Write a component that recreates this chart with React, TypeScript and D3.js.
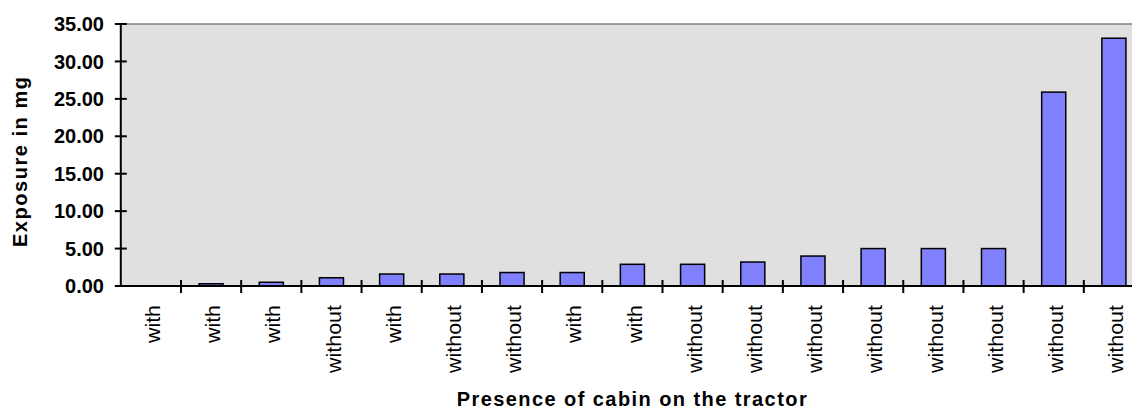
import React from "react";
import * as d3 from "d3";

const categories: string[] = [
  "with", "with", "with", "without", "with", "without", "without", "with", "with",
  "without", "without", "without", "without", "without", "without", "without", "without",
];
const exposure: number[] = [
  0, 0.3, 0.5, 1.1, 1.6, 1.6, 1.8, 1.8, 2.9, 2.9, 3.2, 4.0, 5.0, 5.0, 5.0, 25.9, 33.1,
];
const yTicks: number[] = [0, 5, 10, 15, 20, 25, 30, 35];

const W = 1132;
const H = 410;
const left = 120.8;
const right = 1144;
const top = 24;
const bottom = 286;

export default function App() {
  const x = d3
    .scaleBand<number>()
    .domain(categories.map((_, i) => i))
    .range([left, right])
    .padding(0);
  const y = d3.scaleLinear().domain([0, 35]).range([bottom, top]);
  const bw = x.bandwidth() * 0.4;
  const font = "Arial, 'Liberation Sans', Helvetica, sans-serif";

  return (
    <svg
      width={W}
      height={H}
      style={{ position: "absolute", left: 0, top: 0, background: "#fff" }}
      fontFamily={font}
    >
      <rect x={left} y={top} width={right - left} height={bottom - top} fill="#E0E0E0" />
      <line x1={left} x2={right} y1={top} y2={top} stroke="#808080" strokeWidth={1.5} />
      {exposure.map((v, i) => (
        <rect
          key={i}
          x={(x(i) as number) + (x.bandwidth() - bw) / 2}
          y={y(v)}
          width={bw}
          height={Math.max(0, y(0) - y(v))}
          fill="#8080FF"
          stroke="#000"
          strokeWidth={1.5}
        />
      ))}
      <line x1={left} x2={left} y1={top} y2={bottom} stroke="#000" strokeWidth={2} />
      <line x1={left} x2={right} y1={bottom} y2={bottom} stroke="#000" strokeWidth={2} />
      {yTicks.map((t) => (
        <g key={t}>
          <line x1={left - 6} x2={left + 6} y1={y(t)} y2={y(t)} stroke="#000" strokeWidth={2} />
          <text
            x={104}
            y={y(t)}
            dy="0.36em"
            textAnchor="end"
            fontSize={20}
            fontWeight="bold"
          >
            {t.toFixed(2)}
          </text>
        </g>
      ))}
      {categories.map((_, i) =>
        i === 0 ? null : (
          <line
            key={"t" + i}
            x1={x(i) as number}
            x2={x(i) as number}
            y1={bottom - 6}
            y2={bottom + 7}
            stroke="#000"
            strokeWidth={2}
          />
        )
      )}
      {categories.map((c, i) => {
        const cx = (x(i) as number) + x.bandwidth() / 2;
        return (
          <text
            key={"l" + i}
            transform={`translate(${cx + 2},305) rotate(-90)`}
            dy="0.36em"
            textAnchor="end"
            fontSize={20}
            textLength={c === "with" ? 38 : 68}
            lengthAdjust="spacingAndGlyphs"
          >
            {c}
          </text>
        );
      })}
      <text
        x={631.7}
        y={406}
        textAnchor="middle"
        fontSize={20}
        fontWeight="bold"
        textLength={350}
      >
        Presence of cabin on the tractor
      </text>
      <text
        transform={`translate(27,162) rotate(-90)`}
        textAnchor="middle"
        fontSize={20}
        fontWeight="bold"
        textLength={170}
      >
        Exposure in mg
      </text>
    </svg>
  );
}
